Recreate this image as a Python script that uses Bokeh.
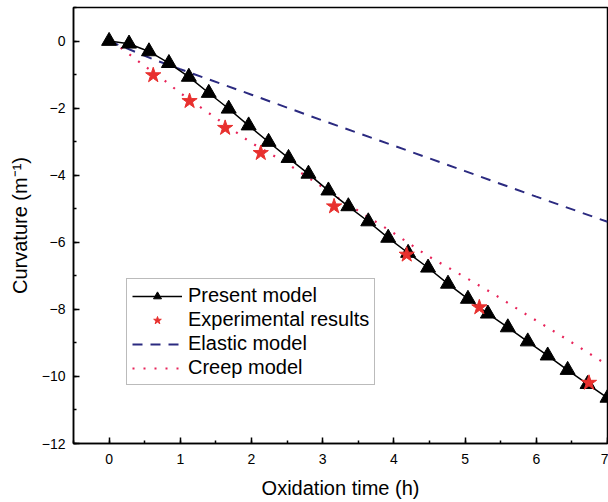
from bokeh.plotting import figure
from bokeh.models import Range1d, Legend, LegendItem, FixedTicker
from bokeh.embed import file_html
from bokeh.resources import INLINE

# ---- data ----
time_model = [0.00, 0.28, 0.56, 0.84, 1.12, 1.40, 1.68, 1.96, 2.24, 2.52, 2.80, 3.08, 3.36,
              3.64, 3.92, 4.20, 4.48, 4.76, 5.04, 5.32, 5.60, 5.88, 6.16, 6.44, 6.72, 7.00]
present_model = [0.00, -0.08, -0.31, -0.66, -1.07, -1.55, -2.02, -2.52, -3.01, -3.49, -3.96, -4.46, -4.93,
                 -5.38, -5.87, -6.32, -6.76, -7.24, -7.69, -8.13, -8.54, -8.96, -9.38, -9.81, -10.23, -10.64]

exp_time = [0.62, 1.13, 1.63, 2.13, 3.16, 4.18, 5.20, 6.74]
exp_curv = [-1.02, -1.79, -2.59, -3.34, -4.93, -6.37, -7.94, -10.19]

elastic_time = [0.0, 0.64, 1.0, 2.0, 3.0, 4.0, 5.0, 6.0, 7.0]
elastic_curv = [0.0, -0.56, -0.84, -1.60, -2.37, -3.12, -3.88, -4.64, -5.39]

creep_time = [0.04, 0.17, 0.47, 0.78, 1.00, 1.24, 1.55, 2.00, 2.47, 2.93, 3.23, 3.55, 4.00,
              4.47, 4.94, 5.40, 5.85, 6.32, 6.62, 7.00]
creep_curv = [0.00, -0.21, -0.70, -1.18, -1.55, -1.91, -2.37, -3.04, -3.61, -4.26, -4.70, -5.13, -5.73,
              -6.40, -6.97, -7.54, -8.14, -8.75, -9.15, -9.66]

x_ticks = [0, 1, 2, 3, 4, 5, 6, 7]
y_ticks = [0, -2, -4, -6, -8, -10, -12]

FONT = "Liberation Sans"

p = figure(width=608, height=502, output_backend="svg", toolbar_location=None,
           x_range=Range1d(-0.5, 7.0), y_range=Range1d(-12.0, 1.0),
           min_border_left=73, min_border_right=1, min_border_top=7, min_border_bottom=59)
p.background_fill_color = "white"
p.border_fill_color = "white"
p.grid.visible = False
p.outline_line_color = "black"
p.outline_line_width = 1.5

for ax in (p.xaxis[0], p.yaxis[0]):
    ax.axis_line_width = 1.5
    ax.major_tick_in = 6
    ax.major_tick_out = 0
    ax.minor_tick_in = 3
    ax.minor_tick_out = 0
    ax.major_tick_line_width = 1.5
    ax.minor_tick_line_width = 1.5
    ax.major_label_text_font = FONT
    ax.major_label_text_font_size = "14px"
    ax.major_label_text_color = "black"
    ax.axis_label_text_font = FONT
    ax.axis_label_text_font_size = "20px"
    ax.axis_label_text_font_style = "normal"
    ax.axis_label_text_color = "black"

p.xaxis.ticker = FixedTicker(ticks=x_ticks, minor_ticks=[-0.5 + 0.5 * i for i in range(16)])
p.yaxis.ticker = FixedTicker(ticks=y_ticks, minor_ticks=[1 - i for i in range(14)])
p.xaxis.axis_label = "Oxidation time (h)"
p.yaxis.axis_label = "Curvature (m⁻¹)"
p.xaxis.major_label_standoff = 10
p.yaxis.major_label_standoff = 8
p.xaxis.axis_label_standoff = 10
p.yaxis.axis_label_standoff = 8

el = p.line(elastic_time, elastic_curv, line_color="#2b2a80", line_width=2, line_dash="10 8")
cr = p.line(creep_time, creep_curv, line_color="#e8245a", line_width=2.2, line_dash="2 9")
pm_line = p.line(time_model, present_model, line_color="black", line_width=1.5)
pm_mark = p.scatter(time_model, present_model, marker="triangle", size=15,
                    fill_color="black", line_color="black")
ex = p.scatter(exp_time, exp_curv, marker="star", size=16, fill_color="#e8302e", line_color="#e8302e")

legend = Legend(items=[
    LegendItem(label="Present model", renderers=[pm_line, pm_mark]),
    LegendItem(label="Experimental results", renderers=[ex]),
    LegendItem(label="Elastic model", renderers=[el]),
    LegendItem(label="Creep model", renderers=[cr]),
], location=(53, 58))
legend.label_text_font = FONT
legend.label_text_font_size = "20px"
legend.label_text_color = "black"
legend.glyph_width = 50
legend.glyph_height = 20
legend.label_height = 20
legend.spacing = 1
legend.padding = 5
legend.margin = 0
legend.label_standoff = 6
legend.border_line_color = "#777777"
legend.border_line_width = 1
legend.background_fill_alpha = 1
p.add_layout(legend, "center")

open("out.html", "w").write(file_html(p, INLINE))
